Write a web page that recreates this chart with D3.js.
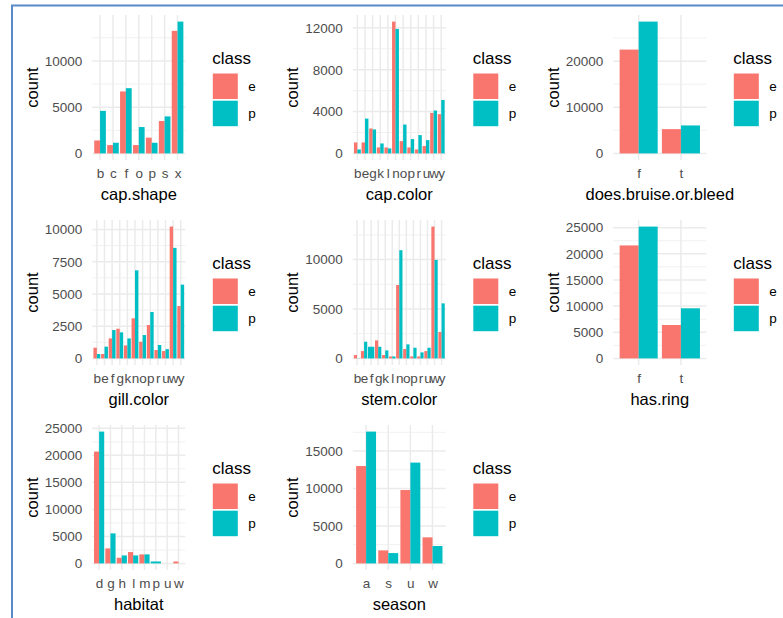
<!DOCTYPE html>
<html><head><meta charset="utf-8">
<script src="https://cdn.jsdelivr.net/npm/d3@7"></script>
<style>body{margin:0;background:#fff}svg{display:block}text{font-family:"Liberation Sans",Arial,sans-serif}</style>
</head><body><svg id="c" width="783" height="618"></svg>
<script>
const classes = ["e", "p"];
const classColors = ["#F8766D", "#00BFC4"];

const capShapeCats = ["b","c","f","o","p","s","x"];
const capShapeE = [1400, 900, 6700, 900, 1700, 3500, 13250];
const capShapeP = [4600, 1150, 7050, 2850, 1150, 4000, 14250];

const capColorCats = ["b","e","g","k","l","n","o","p","r","u","w","y"];
const capColorE = [1050, 1050, 2380, 570, 570, 12600, 1170, 570, 380, 700, 3870, 3750];
const capColorP = [380, 3330, 2290, 950, 480, 11900, 2760, 1370, 1750, 1270, 4100, 5110];

const bruiseCats = ["f","t"];
const bruiseE = [22500, 5260];
const bruiseP = [28570, 6060];

const gillCats = ["b","e","f","g","k","n","o","p","r","u","w","y"];
const gillE = [830, 340, 1550, 2300, 1010, 3110, 1290, 2590, 650, 570, 10220, 4060];
const gillP = [340, 910, 2200, 2020, 1550, 6830, 1810, 3600, 1040, 720, 8570, 5720];

const stemCats = ["b","e","f","g","k","l","n","o","p","r","u","w","y"];
const stemE = [340, 740, null, 1820, 340, 200, 7430, 950, 200, 200, 740, 13340, 2670];
const stemP = [20, 1690, 1180, 1180, 810, 200, 10950, 1420, 1080, 610, 1080, 9970, 5570];

const ringCats = ["f","t"];
const ringE = [21600, 6390];
const ringP = [25200, 9580];

const habitatCats = ["d","g","h","l","m","p","u","w"];
const habitatE = [20700, 2780, 1050, 2100, 1670, null, 0, 350];
const habitatP = [24400, 5560, 1480, 1480, 1670, 360, 0, 0];

const seasonCats = ["a","s","u","w"];
const seasonE = [13000, 1740, 9800, 3480];
const seasonP = [17600, 1380, 13460, 2320];

const panels = [
  {name:"cap.shape", cats:capShapeCats, e:capShapeE, p:capShapeP, step:5000, col:0, row:0},
  {name:"cap.color", cats:capColorCats, e:capColorE, p:capColorP, step:4000, col:1, row:0},
  {name:"does.bruise.or.bleed", cats:bruiseCats, e:bruiseE, p:bruiseP, step:10000, col:2, row:0},
  {name:"gill.color", cats:gillCats, e:gillE, p:gillP, step:2500, col:0, row:1},
  {name:"stem.color", cats:stemCats, e:stemE, p:stemP, step:5000, col:1, row:1},
  {name:"has.ring", cats:ringCats, e:ringE, p:ringP, step:5000, col:2, row:1},
  {name:"habitat", cats:habitatCats, e:habitatE, p:habitatP, step:5000, col:0, row:2},
  {name:"season", cats:seasonCats, e:seasonE, p:seasonP, step:5000, col:1, row:2}
];

const colX = [0, 260.5, 521];
const rowY = [0, 205, 410];
const svg = d3.select("#c");
svg.append("rect").attr("width",783).attr("height",618).attr("fill","#fff");

panels.forEach(pn => {
  const ox = colX[pn.col], oy = rowY[pn.row];
  const L = ox + 92.3, R = ox + 185.3, T = oy + 15, B = oy + 160;
  const vals = [...pn.e, ...pn.p].filter(v => v != null);
  const max = d3.max(vals);
  const y = d3.scaleLinear().domain([-0.05*max, 1.05*max]).range([B, T]);
  const x = d3.scalePoint().domain(pn.cats).range([L, R]).padding(0.6);
  const g = svg.append("g");
  const majors = d3.range(0, 1.05*max + 1, pn.step);
  const minors = majors.map(v => v + pn.step/2).filter(v => v <= 1.05*max);
  g.selectAll(".mn").data(minors).join("line")
    .attr("x1", L).attr("x2", R).attr("y1", d => y(d)).attr("y2", d => y(d))
    .attr("stroke", "#ededed").attr("stroke-width", 0.8);
  g.selectAll(".mj").data(majors).join("line")
    .attr("x1", L).attr("x2", R).attr("y1", d => y(d)).attr("y2", d => y(d))
    .attr("stroke", "#ebebeb").attr("stroke-width", 1.5);
  g.selectAll(".vj").data(pn.cats).join("line")
    .attr("x1", d => x(d)).attr("x2", d => x(d)).attr("y1", T).attr("y2", B)
    .attr("stroke", "#ebebeb").attr("stroke-width", 1.5);

  const bars = [];
  pn.cats.forEach((c, i) => {
    const present = classes.map((k, j) => ({k, j, v: (j === 0 ? pn.e : pn.p)[i]})).filter(d => d.v != null);
    present.forEach((d, idx) => bars.push({cat: c, cls: d.j, v: d.v, idx, n: present.length}));
  });
  const st = x.step();
  g.selectAll(".bar").data(bars).join("rect")
    .attr("x", d => x(d.cat) - 0.45*st + d.idx*(0.9*st/d.n))
    .attr("width", d => 0.9*st/d.n)
    .attr("y", d => y(d.v))
    .attr("height", d => y(0) - y(d.v))
    .attr("fill", d => classColors[d.cls]);

  const ya = d3.axisLeft(y).tickValues(majors).tickSize(0).tickPadding(10).tickFormat(d3.format("d"));
  const ygA = g.append("g").attr("transform", `translate(${L},0)`).call(ya);
  ygA.select(".domain").remove();
  ygA.selectAll("text").attr("fill", "#4d4d4d").attr("font-size", 13.5).attr("font-family", '"Liberation Sans",Arial,sans-serif');

  const xa = d3.axisBottom(x).tickSize(0).tickPadding(8.4);
  const xgA = g.append("g").attr("transform", `translate(0,${B})`).call(xa);
  xgA.select(".domain").remove();
  xgA.selectAll("text").attr("fill", "#4d4d4d").attr("font-size", 13.5).attr("font-family", '"Liberation Sans",Arial,sans-serif');

  g.append("text").attr("x", (L+R)/2).attr("y", oy + 199.5).attr("text-anchor", "middle")
    .attr("font-size", 16.5).attr("fill", "#000").text(pn.name);
  g.append("text").attr("transform", `translate(${ox+37.5},${(T+B)/2}) rotate(-90)`)
    .attr("text-anchor", "middle").attr("font-size", 16.5).attr("fill", "#000").text("count");

  const lx = ox + 212.3;
  g.append("text").attr("x", lx).attr("y", oy + 64).attr("font-size", 17).attr("fill", "#000").text("class");
  classes.forEach((k, j) => {
    const ky = oy + 73.5 + j*27.2;
    g.append("rect").attr("x", lx + 0.5).attr("y", ky).attr("width", 25).attr("height", 25.5).attr("fill", classColors[j]);
    g.append("text").attr("x", lx + 36).attr("y", ky + 17).attr("font-size", 13.5).attr("fill", "#000").text(k);
  });
});

svg.append("path").attr("d", "M12,618 L12,5.5 L783,5.5").attr("fill", "none")
  .attr("stroke", "#5b8ac9").attr("stroke-width", 2);
</script></body></html>
